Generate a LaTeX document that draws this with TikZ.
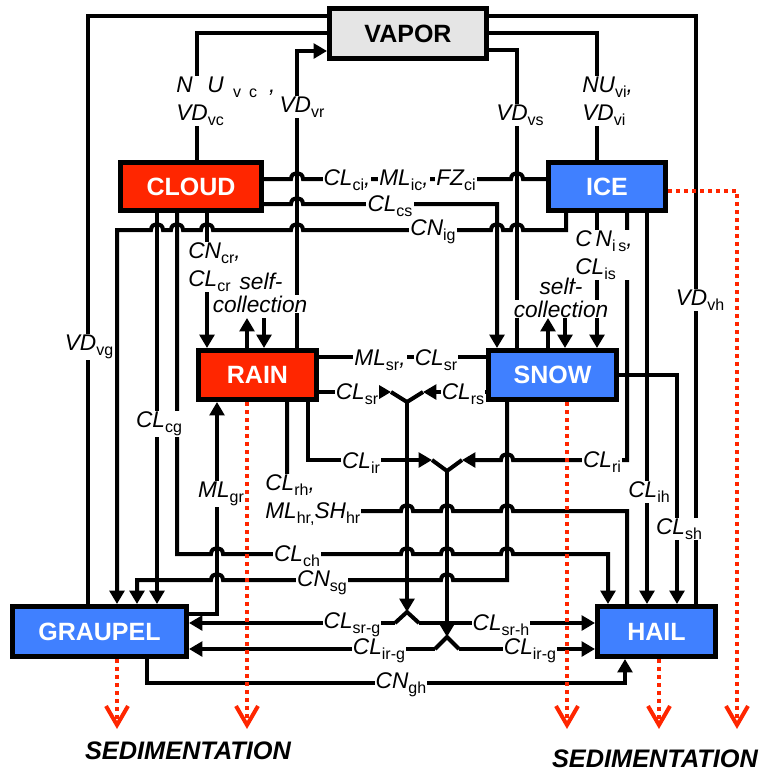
\documentclass[tikz,border=0pt]{standalone}
\usepackage{fontspec}
\setmainfont{Liberation Sans}
\usetikzlibrary{arrows.meta}
\definecolor{cred}{RGB}{255,38,0}
\definecolor{cblue}{RGB}{64,128,255}
\definecolor{cgray}{RGB}{229,229,229}
\newcommand\sbx[1]{\raisebox{-3.5pt}{\fontsize{12}{12}\selectfont\upshape #1}}
\begin{document}
\begin{tikzpicture}[x=0.75pt,y=-0.75pt,
  box/.style={draw=black,line width=3.75pt,inner sep=0pt,font=\fontsize{18.75}{20}\selectfont\bfseries},
  ln/.style={line width=3pt},
  >={Triangle[width=11pt,length=10pt]},
  lab/.style={fill=white,inner sep=0.8pt,font=\fontsize{17}{21}\selectfont\itshape},
  sed/.style={cred,line width=3pt,dash pattern=on 3pt off 3pt},
  vtip/.style={cred,line width=3pt},
  sedtext/.style={inner sep=0pt,font=\fontsize{19}{20}\selectfont\bfseries\itshape},
  hr/.style 2 args={insert path={-- (#1-6,#2) .. controls (#1-6,#2-8) and (#1+6,#2-8) .. (#1+6,#2)}},
  hl/.style 2 args={insert path={-- (#1+6,#2) .. controls (#1+6,#2-8) and (#1-6,#2-8) .. (#1-6,#2)}},
]
\useasboundingbox (0,0) rectangle (763,772);
% boxes
\node[box,fill=cgray,minimum width=117.75pt,minimum height=37.5pt] (vapor) at (408,33.5) {VAPOR};
\node[box,fill=cred,text=white,minimum width=105.75pt,minimum height=36pt] (cloud) at (191,186.5) {CLOUD};
\node[box,fill=cblue,text=white,minimum width=87.75pt,minimum height=36pt] (ice) at (607,186.5) {ICE};
\node[box,fill=cred,text=white,minimum width=88.5pt,minimum height=36.75pt] (rain) at (257.5,375) {RAIN};
\node[box,fill=cblue,text=white,minimum width=96pt,minimum height=36.75pt] (snow) at (552.5,375) {SNOW};
\node[box,fill=cblue,text=white,minimum width=130.5pt,minimum height=37.5pt] (graupel) at (99.5,631.5) {GRAUPEL};
\node[box,fill=cblue,text=white,minimum width=88.5pt,minimum height=37.5pt] (hail) at (656.5,631.5) {HAIL};
% vapour connectors
\draw[ln] (vapor.west |- 0,16) -- (88,16) -- (88,0 |- graupel.north);
\draw[ln] (vapor.west |- 0,33) -- (197,33) -- (197,0 |- cloud.north);
\draw[ln,->] (297,0 |- rain.north) -- (297,51) -- (vapor.west |- 0,51);
\draw[ln] (vapor.east |- 0,50) -- (517,50) -- (517,0 |- snow.north);
\draw[ln] (vapor.east |- 0,33) -- (597,33) -- (597,0 |- ice.north);
\draw[ln] (vapor.east |- 0,16) -- (696,16) -- (696,0 |- hail.north);
% cloud / ice
\draw[ln] (cloud.east |- 0,179) [hr={297}{179}] [hr={517}{179}] -- (ice.west |- 0,179);
\draw[ln,->] (cloud.east |- 0,204) [hr={297}{204}] -- (497,204) -- (497,0 |- snow.north);
\draw[ln,->] (566,0 |- ice.south) -- (566,230) [hl={517}{230}] [hl={497}{230}] [hl={297}{230}] [hl={207}{230}] [hl={177}{230}] [hl={157}{230}] -- (117,230) -- (117,0 |- graupel.north);
\draw[ln,->] (157,0 |- cloud.south) -- (157,0 |- graupel.north);
\draw[ln,->] (177,0 |- cloud.south) -- (177,554) [hr={217}{554}] [hr={407}{554}] [hr={447}{554}] [hr={507}{554}] -- (608,554) -- (608,0 |- hail.north);
\draw[ln,->] (207,0 |- cloud.south) -- (207,0 |- rain.north);
% self collection
\draw[ln,->] (247,0 |- rain.north) -- (247,318);
\draw[ln,->] (264,318) -- (264,0 |- rain.north);
\draw[ln,->] (548,0 |- snow.north) -- (548,318);
\draw[ln,->] (565,318) -- (565,0 |- snow.north);
% ice to snow/hail
\draw[ln,->] (597,0 |- ice.south) -- (597,0 |- snow.north);
\draw[ln,->] (627,0 |- ice.south) -- (627,460) [hl={507}{460}] -- (462,460);
\draw[ln,->] (647,0 |- ice.south) -- (647,0 |- hail.north);
\draw[ln,->] (snow.east |- 0,375) -- (677,375) -- (677,0 |- hail.north);
% rain / snow
\draw[ln] (rain.east |- 0,357) -- (snow.west |- 0,357);
\draw[ln,->] (rain.east |- 0,392) -- (391,392);
\draw[ln,->] (snow.west |- 0,392) -- (423,392);
\draw[ln] (391,392) -- (407,402) -- (423,392);
\draw[ln,->] (407,402) -- (407,612);
\draw[ln] (395,623) -- (407,612) -- (419,623);
\draw[ln,->] (395,623) -- (graupel.east |- 0,623);
\draw[ln,->] (419,623) -- (hail.west |- 0,623);
\draw[ln,->] (308,0 |- rain.south) -- (308,460) -- (432,460);
\draw[ln] (432,460) -- (447,471) -- (462,460);
\draw[ln,->] (447,471) -- (447,637);
\draw[ln] (435,649) -- (447,637) -- (459,649);
\draw[ln,->] (435,649) -- (graupel.east |- 0,649);
\draw[ln,->] (459,649) -- (hail.west |- 0,649);
\draw[ln] (287,0 |- rain.south) -- (287,511) [hr={407}{511}] [hr={447}{511}] [hr={507}{511}] -- (627,511) -- (627,0 |- hail.north);
\draw[ln,->] (graupel.east |- 0,614) -- (217,614) -- (217,0 |- rain.south);
\draw[ln,->] (507,0 |- snow.south) -- (507,580) [hl={447}{580}] [hl={217}{580}] -- (137,580) -- (137,0 |- graupel.north);
\draw[ln,->] (147,0 |- graupel.south) -- (147,683) -- (625,683) -- (625,0 |- hail.south);
% sedimentation
\draw[sed] (ice.east |- 0,191) -- (737,191) -- (737,722);
\draw[sed] (567,0 |- snow.south) -- (567,722);
\draw[sed] (659,0 |- hail.south) -- (659,722);
\draw[sed] (247,0 |- rain.south) -- (247,722);
\draw[sed] (117,0 |- graupel.south) -- (117,722);
\foreach \xx in {117,247,567,659,737}{
  \draw[vtip] (\xx-11,706) -- (\xx,725) -- (\xx+11,706);
}
% labels
\node[lab,align=left,anchor=west] (t1) at (175,101) {N\hspace{11pt}U\hspace{7pt}\sbx{v\hspace{6pt}c}\hspace{9pt},\\VD\sbx{vc}};
\node[lab] (t2) at (302,107) {VD\sbx{vr}};
\node[lab] (t3) at (520,115) {VD\sbx{vs}};
\node[lab,align=left,anchor=west] (t4) at (581,101) {NU\sbx{vi},\\VD\sbx{vi}};
\node[lab] (t5) at (700,300) {VD\sbx{vh}};
\node[lab] (t6) at (89,347) {VD\sbx{vg}};
\node[lab] (t7) at (347,180) {CL\sbx{ci},};
\node[lab] (t8) at (404,180) {ML\sbx{ic},};
\node[lab] (t9) at (456,180) {FZ\sbx{ci}};
\node[lab] (t10) at (390,206) {CL\sbx{cs}};
\node[lab] (t11) at (433,232) {CN\sbx{ig}};
\node[lab,align=left,anchor=west] (t12) at (187,267) {CN\sbx{cr},\\CL\sbx{cr}};
\node[lab] (t13b) at (260,304) {collection};
\node[lab] (t13a) at (261,281) {self-};
\node[lab] (t14a) at (561,286) {self-};
\node[lab] (t14b) at (561,309) {collection};
\node[lab,align=left,anchor=west] (t15) at (574,255) {C\hspace{3pt}N\sbx{i\hspace{2pt}s},\\CL\sbx{is}};
\node[lab] (t16) at (159,424) {CL\sbx{cg}};
\node[lab] (t17) at (380,360) {ML\sbx{sr},};
\node[lab] (t18) at (436,360) {CL\sbx{sr}};
\node[lab] (t19) at (357,394) {CL\sbx{sr}};
\node[lab] (t20) at (463,394) {CL\sbx{rs}};
\node[lab] (t21) at (361,463) {CL\sbx{ir}};
\node[lab] (t22) at (602,462) {CL\sbx{ri}};
\node[lab,align=left,anchor=west] (t23) at (264,500) {CL\sbx{rh},\\ML\sbx{hr,}SH\sbx{hr}};
\node[lab] (t24) at (649,492) {CL\sbx{ih}};
\node[lab] (t25) at (679,529) {CL\sbx{sh}};
\node[lab] (t26) at (221,494) {ML\sbx{gr}};
\node[lab] (t28) at (322,583) {CN\sbx{sg}};
\node[lab] (t27) at (297,556) {CL\sbx{ch}};
\node[lab] (t29) at (352,625) {CL\sbx{sr-g}};
\node[lab] (t30) at (379,651) {CL\sbx{ir-g}};
\node[lab] (t31) at (501,625) {CL\sbx{sr-h}};
\node[lab] (t32) at (530,651) {CL\sbx{ir-g}};
\node[lab] (t33) at (401,685) {CN\sbx{gh}};
\node[sedtext] (s1) at (188,751) {SEDIMENTATION};
\node[sedtext] (s2) at (655,759) {SEDIMENTATION};
\end{tikzpicture}
\end{document}
